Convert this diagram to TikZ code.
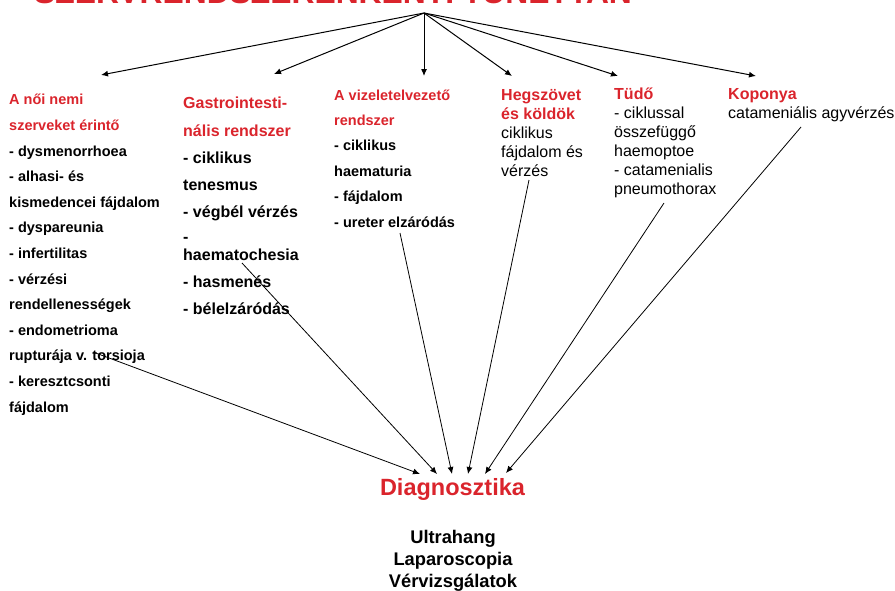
\documentclass[tikz,border=0pt]{standalone}
\usepackage{fontspec}
\setmainfont{Liberation Sans}
\usetikzlibrary{arrows.meta}
\definecolor{diagred}{RGB}{218,36,44}

\begin{document}
\begin{tikzpicture}[x=1pt,y=-1pt,
	col/.style={anchor=base west, align=left, inner sep=0pt},
	arr/.style={-{Latex[length=7pt,width=6pt]}, line width=0.8pt}]
	\clip (0,0) rectangle (895,590);

	%Title
	\node[anchor=base west,
	inner sep=0pt,
	text=diagred,
	font=\fontsize{31.8}{36}\selectfont\bfseries] (title) at (34,3.5) {SZERVRENDSZERENKÉNTI TÜNETTAN};

	\coordinate (hub) at (424,13);

	%Columns (placed at the baseline of their last line)
	\node[col,
	font=\fontsize{14.5}{25.6}\selectfont\bfseries] (noi) at (9,412)
	{\textcolor{diagred}{A női nemi}\\ \textcolor{diagred}{szerveket érintő}\\
	- dysmenorrhoea\\ - alhasi- és\\ kismedencei fájdalom\\ - dyspareunia\\
	- infertilitas\\ - vérzési\\ rendellenességek\\ - endometrioma\\
	rupturája v. torsioja\\ - keresztcsonti\\ fájdalom};

	\node[col,
	font=\fontsize{16}{27}\selectfont\bfseries] (gastro) at (183,314)
	{\textcolor{diagred}{Gastrointesti-}\\[1pt] \textcolor{diagred}{nális rendszer}\\
	- ciklikus\\ tenesmus\\ - végbél vérzés\\[-2pt] -\\[-9pt] haematochesia\\
	- hasmenés\\ - bélelzáródás};

	\node[col,
	font=\fontsize{14.5}{25.4}\selectfont\bfseries] (vizelet) at (334,227)
	{\textcolor{diagred}{A vizeletelvezető}\\ \textcolor{diagred}{rendszer}\\
	- ciklikus\\ haematuria\\ - fájdalom\\ - ureter elzáródás};

	\node[col,
	font=\fontsize{16}{19}\selectfont] (heg) at (501,176)
	{\textcolor{diagred}{\bfseries Hegszövet}\\ \textcolor{diagred}{\bfseries és köldök}\\
	ciklikus\\ fájdalom és\\ vérzés};

	\node[col,
	font=\fontsize{16}{19}\selectfont] (tudo) at (614,194)
	{\textcolor{diagred}{\bfseries Tüdő}\\ - ciklussal\\ összefüggő\\ haemoptoe\\
	- catamenialis\\ pneumothorax};

	\node[col,
	font=\fontsize{16}{19}\selectfont] (koponya) at (728,118)
	{\textcolor{diagred}{\bfseries Koponya}\\ catameniális agyvérzés};

	%Diagnostics
	\node[anchor=base,
	inner sep=0pt,
	text=diagred,
	font=\fontsize{23.5}{28}\selectfont\bfseries] (diag) at (452.5,495) {Diagnosztika};

	\node[anchor=base,
	align=center,
	inner sep=0pt,
	font=\fontsize{18.3}{22}\selectfont\bfseries] (vizsg) at (453,587)
	{Ultrahang\\ Laparoscopia\\ Vérvizsgálatok};

	%arrow ends
	\coordinate (noitop) at (101,75);
	\coordinate (gastrotop) at (274,74);
	\coordinate (vizelettop) at (424,76);
	\coordinate (hegtop) at (512,76);
	\coordinate (tudotop) at (618,76);
	\coordinate (koponyatop) at (756,76);

	\coordinate (noifrom) at (93,352);
	\coordinate (gastrofrom) at (242,263);
	\coordinate (vizeletfrom) at (400,233);
	\coordinate (hegfrom) at (529,180);
	\coordinate (tudofrom) at (664,203);
	\coordinate (koponyafrom) at (801,127);

	\coordinate (d1) at (420,474);
	\coordinate (d2) at (437,474);
	\coordinate (d3) at (452,474);
	\coordinate (d4) at (468,474);
	\coordinate (d5) at (485,474);
	\coordinate (d6) at (506,473);

	%from the hub
	\foreach \t in {noitop,gastrotop,vizelettop,hegtop,tudotop,koponyatop}
		\draw[arr, line width=1pt] (hub) -- (\t);

	%to diagnostics
	\foreach \a/\b in {noifrom/d1,gastrofrom/d2,vizeletfrom/d3,hegfrom/d4,tudofrom/d5,koponyafrom/d6}
		\draw[arr] (\a) -- (\b);
\end{tikzpicture}
\end{document}
